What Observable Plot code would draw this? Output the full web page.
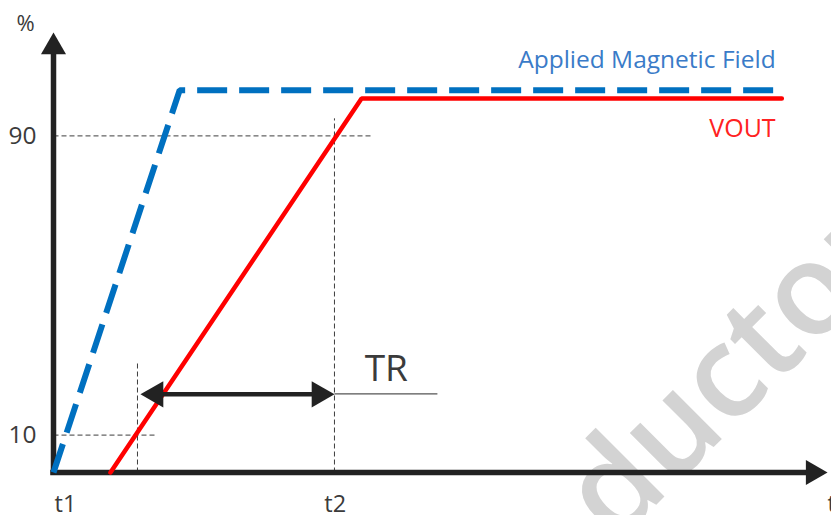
<!DOCTYPE html>
<html>
<head>
<meta charset="utf-8">
<script src="https://cdn.jsdelivr.net/npm/d3@7"></script>
<script src="https://cdn.jsdelivr.net/npm/@observablehq/plot@0.6"></script>
<style>
  html, body { margin: 0; padding: 0; background: #fff; }
  #chart svg { display: block; }
</style>
</head>
<body>
<div id="chart"></div>
<script>
// ---- data (time axis 0..100, percent axis) ----
const blueT = [0, 16.3, 94.1];        // Applied Magnetic Field
const blueV = [0, 102.2, 102.2];
const redT = [7.36, 39.8, 94.1];      // VOUT
const redV = [0, 100, 100];

const tickValues = [10, 90];
const tickLabels = ["10", "90"];

const hGuideLevels = [10, 90];
const hGuideEnds = [13.2, 41.0];
const vGuideTimes = [10.85, 36.3];
const vGuideTops = [29.9, 94.7];

const timeLabels = ["t1", "t2"];
const timeLabelPos = [1.55, 36.4];

const trLevel = 20.9;
const trStart = 10.85;   // t at 10 %
const trEnd = 36.3;      // t2 at 90 %
const trTickEnd = 49.6;

const axisXEnd = 100;
const axisYEnd = 117.6;

const seriesNames = ["Applied Magnetic Field", "VOUT"];
const seriesColors = ["#0070C0", "#FF0000"];
const seriesTextColors = ["#3a7bc8", "#ff2222"];

const watermark = "ductor";

// ---- build tables ----
const blue = blueT.map((t, i) => ({t, v: blueV[i]}));
const red = redT.map((t, i) => ({t, v: redV[i]}));
const ticks = tickValues.map((v, i) => ({v, label: tickLabels[i]}));
const hGuides = hGuideLevels.map((v, i) => ({v, end: hGuideEnds[i]}));
const vGuides = vGuideTimes.map((t, i) => ({t, top: vGuideTops[i]}));
const tLabels = timeLabels.map((s, i) => ({s, t: timeLabelPos[i]}));

const ink = "#222";
const textInk = "#3b3b3b";
const guideInk = "#3d3d3d";
const font = "Open Sans";

const chart = Plot.plot({
  width: 831,
  height: 515,
  margin: 0,
  style: {background: "#fff", fontFamily: font},
  x: {domain: [0, 100], range: [53, 827], axis: null},
  y: {domain: [0, 100], range: [472, 98], axis: null},
  marks: [
    // watermark
    Plot.text([watermark], {x: () => 72.6, y: () => -19.5, text: d => d, rotate: -45,
      fontSize: 128, fontWeight: 600, fill: "#d3d3d3", textAnchor: "start", lineAnchor: "bottom",
      fontFamily: font}),
    // guides
    Plot.link(hGuides, {x1: 0, x2: "end", y1: "v", y2: "v", stroke: guideInk, strokeWidth: 1, strokeDasharray: "5,3"}),
    Plot.link(vGuides, {x1: "t", x2: "t", y1: 0, y2: "top", stroke: guideInk, strokeWidth: 1, strokeDasharray: "5,3"}),
    // axes
    Plot.ruleY([0], {x1: 0, x2: axisXEnd - 2, stroke: ink, strokeWidth: 5.5, strokeLinecap: "square"}),
    Plot.ruleX([0], {y1: 0, y2: axisYEnd - 4, stroke: ink, strokeWidth: 5.5, strokeLinecap: "square"}),
    Plot.dot([axisXEnd], {x: d => d - 1.86, y: 0, symbol: "triangle", r: 9.3, rotate: 90, fill: ink, stroke: "none"}),
    Plot.dot([axisYEnd], {x: 0, y: d => d - 3.85, symbol: "triangle", r: 9.3, fill: ink, stroke: "none"}),
    // series
    Plot.line(blue, {x: "t", y: "v", stroke: seriesColors[0], strokeWidth: 6, strokeDasharray: "30,12", strokeLinejoin: "miter", strokeLinecap: "butt"}),
    Plot.line(red, {x: "t", y: "v", stroke: seriesColors[1], strokeWidth: 4.5, strokeLinejoin: "miter"}),
    // TR arrow
    Plot.link([trLevel], {x1: trStart + 2.3, x2: trEnd - 2.0, y1: d => d, y2: d => d, stroke: ink, strokeWidth: 4.5}),
    Plot.dot([trStart], {x: d => d + 2.35, y: trLevel, symbol: "triangle", r: 9.8, rotate: -90, fill: ink, stroke: "none"}),
    Plot.dot([trEnd], {x: d => d - 1.96, y: trLevel, symbol: "triangle", r: 9.8, rotate: 90, fill: ink, stroke: "none"}),
    Plot.link([trLevel + 0.1], {x1: trEnd, x2: trTickEnd, y1: d => d, y2: d => d, stroke: "#555", strokeWidth: 1.2}),
    Plot.text(["TR"], {x: () => 43.0, y: () => 27.5, text: d => d, fontSize: 37, fill: textInk, fontFamily: font}),
    // tick labels
    Plot.text(ticks, {x: 0, y: "v", text: "label", dx: -17, textAnchor: "end", fontSize: 24.5, fill: textInk, fontFamily: font}),
    Plot.text(["%"], {x: 0, y: () => 119.9, text: d => d, dx: -28, fontSize: 22, fill: textInk, fontFamily: font}),
    Plot.text(tLabels, {x: "t", y: () => -8.5, text: "s", fontSize: 23.5, fill: textInk, fontFamily: font}),
    Plot.text(["t"], {x: axisXEnd, y: () => -8.5, text: d => d, textAnchor: "start", fontSize: 23.5, fill: textInk, fontFamily: font}),
    // series labels
    Plot.text([seriesNames[0]], {x: () => 93.3, y: () => 110.3, text: d => d, textAnchor: "end", fontSize: 24.5, fill: seriesTextColors[0], fontFamily: font}),
    Plot.text([seriesNames[1]], {x: () => 93.3, y: () => 91.9, text: d => d, textAnchor: "end", fontSize: 25, fill: seriesTextColors[1], fontFamily: font})
  ]
});

document.getElementById("chart").appendChild(chart);
</script>
</body>
</html>
